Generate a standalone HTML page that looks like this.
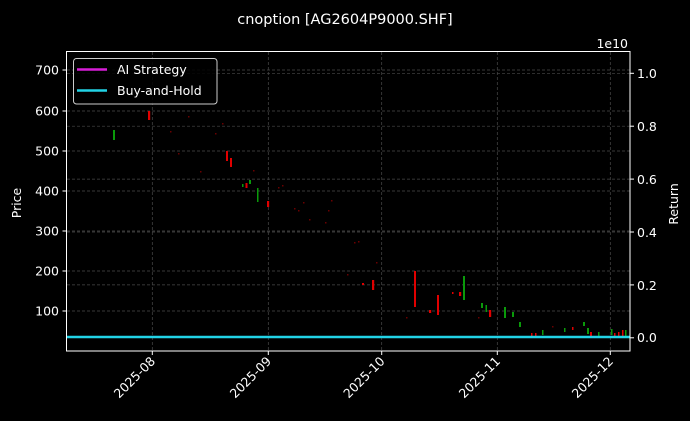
<!DOCTYPE html>
<html><head><meta charset="utf-8"><style>
html,body{margin:0;padding:0;background:#000;}
svg{display:block;font-family:"DejaVu Sans","Liberation Sans",sans-serif;}
</style></head><body>
<svg width="690" height="421" viewBox="0 0 690 421" xmlns="http://www.w3.org/2000/svg">
<rect width="690" height="421" fill="#000"/>
<g stroke="#4a4a4a" stroke-width="0.7" stroke-dasharray="3,2">
<line x1="152.3" y1="52" x2="152.3" y2="351"/><line x1="268.3" y1="52" x2="268.3" y2="351"/><line x1="381.7" y1="52" x2="381.7" y2="351"/><line x1="497.3" y1="52" x2="497.3" y2="351"/><line x1="610.3" y1="52" x2="610.3" y2="351"/>
<line x1="67" y1="70" x2="630" y2="70"/><line x1="67" y1="111" x2="630" y2="111"/><line x1="67" y1="151" x2="630" y2="151"/><line x1="67" y1="191" x2="630" y2="191"/><line x1="67" y1="231" x2="630" y2="231"/><line x1="67" y1="271" x2="630" y2="271"/><line x1="67" y1="311" x2="630" y2="311"/>
<line x1="67" y1="73.3" x2="630" y2="73.3"/><line x1="67" y1="126.2" x2="630" y2="126.2"/><line x1="67" y1="179.1" x2="630" y2="179.1"/><line x1="67" y1="232" x2="630" y2="232"/><line x1="67" y1="284.9" x2="630" y2="284.9"/>
</g>
<g fill="#6a0000">
<rect x="170" y="131" width="1.5" height="1.5"/><rect x="178" y="153" width="1.5" height="1.5"/><rect x="188" y="116" width="1.5" height="1.5"/><rect x="200" y="171" width="1.5" height="1.5"/><rect x="215" y="133" width="1.5" height="1.5"/><rect x="222" y="123" width="1.5" height="1.5"/><rect x="253" y="170" width="1.5" height="1.5"/><rect x="278" y="187" width="1.5" height="1.5"/><rect x="282" y="185" width="1.5" height="1.5"/><rect x="294" y="208" width="1.5" height="1.5"/><rect x="298" y="210" width="1.5" height="1.5"/><rect x="303" y="202" width="1.5" height="1.5"/><rect x="309" y="219" width="1.5" height="1.5"/><rect x="325" y="222" width="1.5" height="1.5"/><rect x="328" y="210" width="1.5" height="1.5"/><rect x="331" y="200" width="1.5" height="1.5"/><rect x="354" y="242" width="1.5" height="1.5"/><rect x="358" y="241" width="1.5" height="1.5"/><rect x="347" y="274" width="1.5" height="1.5"/><rect x="376" y="262" width="1.5" height="1.5"/><rect x="406" y="317" width="1.5" height="1.5"/><rect x="478" y="317" width="1.5" height="1.5"/><rect x="552" y="326" width="1.5" height="1.5"/></g>
<g fill="#e00000">
<rect x="148" y="111" width="2.2" height="9"/><rect x="226" y="151" width="2" height="10"/><rect x="230" y="158" width="2" height="9"/><rect x="245.5" y="183" width="2" height="5"/><rect x="267" y="201" width="2.2" height="6"/><rect x="362" y="283" width="2" height="2"/><rect x="372" y="280" width="2.2" height="10"/><rect x="414" y="271" width="2" height="36"/><rect x="429" y="310" width="2.2" height="3"/><rect x="437" y="295" width="2" height="20"/><rect x="452" y="292" width="1.5" height="2"/><rect x="459" y="292" width="2.2" height="4"/><rect x="489" y="310" width="2.2" height="7"/><rect x="531" y="333" width="1.5" height="4"/><rect x="535" y="333" width="1.5" height="4"/><rect x="572" y="327" width="1.5" height="3"/><rect x="590" y="332" width="2" height="6"/><rect x="614" y="333" width="1.5" height="5"/><rect x="618" y="332" width="1.5" height="6"/><rect x="622" y="330" width="1.5" height="8"/></g>
<g fill="#0a9a0a">
<rect x="113" y="130" width="2" height="10"/><rect x="242" y="184" width="1.5" height="3"/><rect x="249" y="180" width="2" height="4"/><rect x="257" y="188" width="1.5" height="14"/><rect x="463" y="276" width="2" height="24"/><rect x="481" y="303" width="2" height="5"/><rect x="485.5" y="305" width="1.5" height="7"/><rect x="504" y="307" width="2" height="11"/><rect x="512" y="312" width="2" height="5"/><rect x="519" y="322" width="2" height="5"/><rect x="542" y="330" width="1.5" height="5"/><rect x="564" y="328" width="1.5" height="4"/><rect x="583" y="322" width="2" height="4"/><rect x="587" y="328" width="2" height="6"/><rect x="598" y="332" width="1.5" height="6"/><rect x="611" y="329" width="1.5" height="6"/><rect x="625" y="330" width="1.5" height="8"/></g>
<line x1="66.5" y1="337" x2="630" y2="337" stroke="#22d3e6" stroke-width="2.5"/>
<rect x="66.5" y="51.5" width="563.5" height="299.5" fill="none" stroke="#fff" stroke-width="1"/>
<g stroke="#fff" stroke-width="1">
<line x1="62.5" y1="70" x2="66.5" y2="70"/><line x1="62.5" y1="111" x2="66.5" y2="111"/><line x1="62.5" y1="151" x2="66.5" y2="151"/><line x1="62.5" y1="191" x2="66.5" y2="191"/><line x1="62.5" y1="231" x2="66.5" y2="231"/><line x1="62.5" y1="271" x2="66.5" y2="271"/><line x1="62.5" y1="311" x2="66.5" y2="311"/>
<line x1="630" y1="73.3" x2="634" y2="73.3"/><line x1="630" y1="126.2" x2="634" y2="126.2"/><line x1="630" y1="179.1" x2="634" y2="179.1"/><line x1="630" y1="232" x2="634" y2="232"/><line x1="630" y1="284.9" x2="634" y2="284.9"/><line x1="630" y1="337.8" x2="634" y2="337.8"/>
<line x1="152.3" y1="351" x2="152.3" y2="355"/><line x1="268.3" y1="351" x2="268.3" y2="355"/><line x1="381.7" y1="351" x2="381.7" y2="355"/><line x1="497.3" y1="351" x2="497.3" y2="355"/><line x1="610.3" y1="351" x2="610.3" y2="355"/>
</g>
<g fill="#fff" font-size="12.5">
<g text-anchor="end"><text x="59" y="74.5">700</text><text x="59" y="115.5">600</text><text x="59" y="155.5">500</text><text x="59" y="195.5">400</text><text x="59" y="235.5">300</text><text x="59" y="275.5">200</text><text x="59" y="315.5">100</text></g>
<text x="637" y="78">1.0</text><text x="637" y="131">0.8</text><text x="637" y="184">0.6</text><text x="637" y="237">0.4</text><text x="637" y="290">0.2</text><text x="637" y="342">0.0</text>
<text x="628" y="48" text-anchor="end">1e10</text>
<text x="345" y="24" text-anchor="middle" font-size="14.5">cnoption [AG2604P9000.SHF]</text>
<text transform="translate(21,203) rotate(-90)" text-anchor="middle">Price</text>
<text transform="translate(678,204) rotate(-90)" text-anchor="middle">Return</text>
<g text-anchor="end">
<text transform="translate(156,362) rotate(-45)">2025-08</text>
<text transform="translate(272,362) rotate(-45)">2025-09</text>
<text transform="translate(385.5,362) rotate(-45)">2025-10</text>
<text transform="translate(501,362) rotate(-45)">2025-11</text>
<text transform="translate(614,362) rotate(-45)">2025-12</text>
</g>
</g>
<rect x="73.5" y="58.5" width="143.5" height="45.5" rx="3" fill="#000" fill-opacity="0.85" stroke="#ccc" stroke-width="1"/>
<line x1="77" y1="69.5" x2="107" y2="69.5" stroke="#d81ed8" stroke-width="2.5"/>
<line x1="77" y1="90.5" x2="107" y2="90.5" stroke="#22d3e6" stroke-width="2.5"/>
<g fill="#fff" font-size="12.5"><text x="117" y="74">AI Strategy</text><text x="117" y="95">Buy-and-Hold</text></g>
</svg>
</body></html>
